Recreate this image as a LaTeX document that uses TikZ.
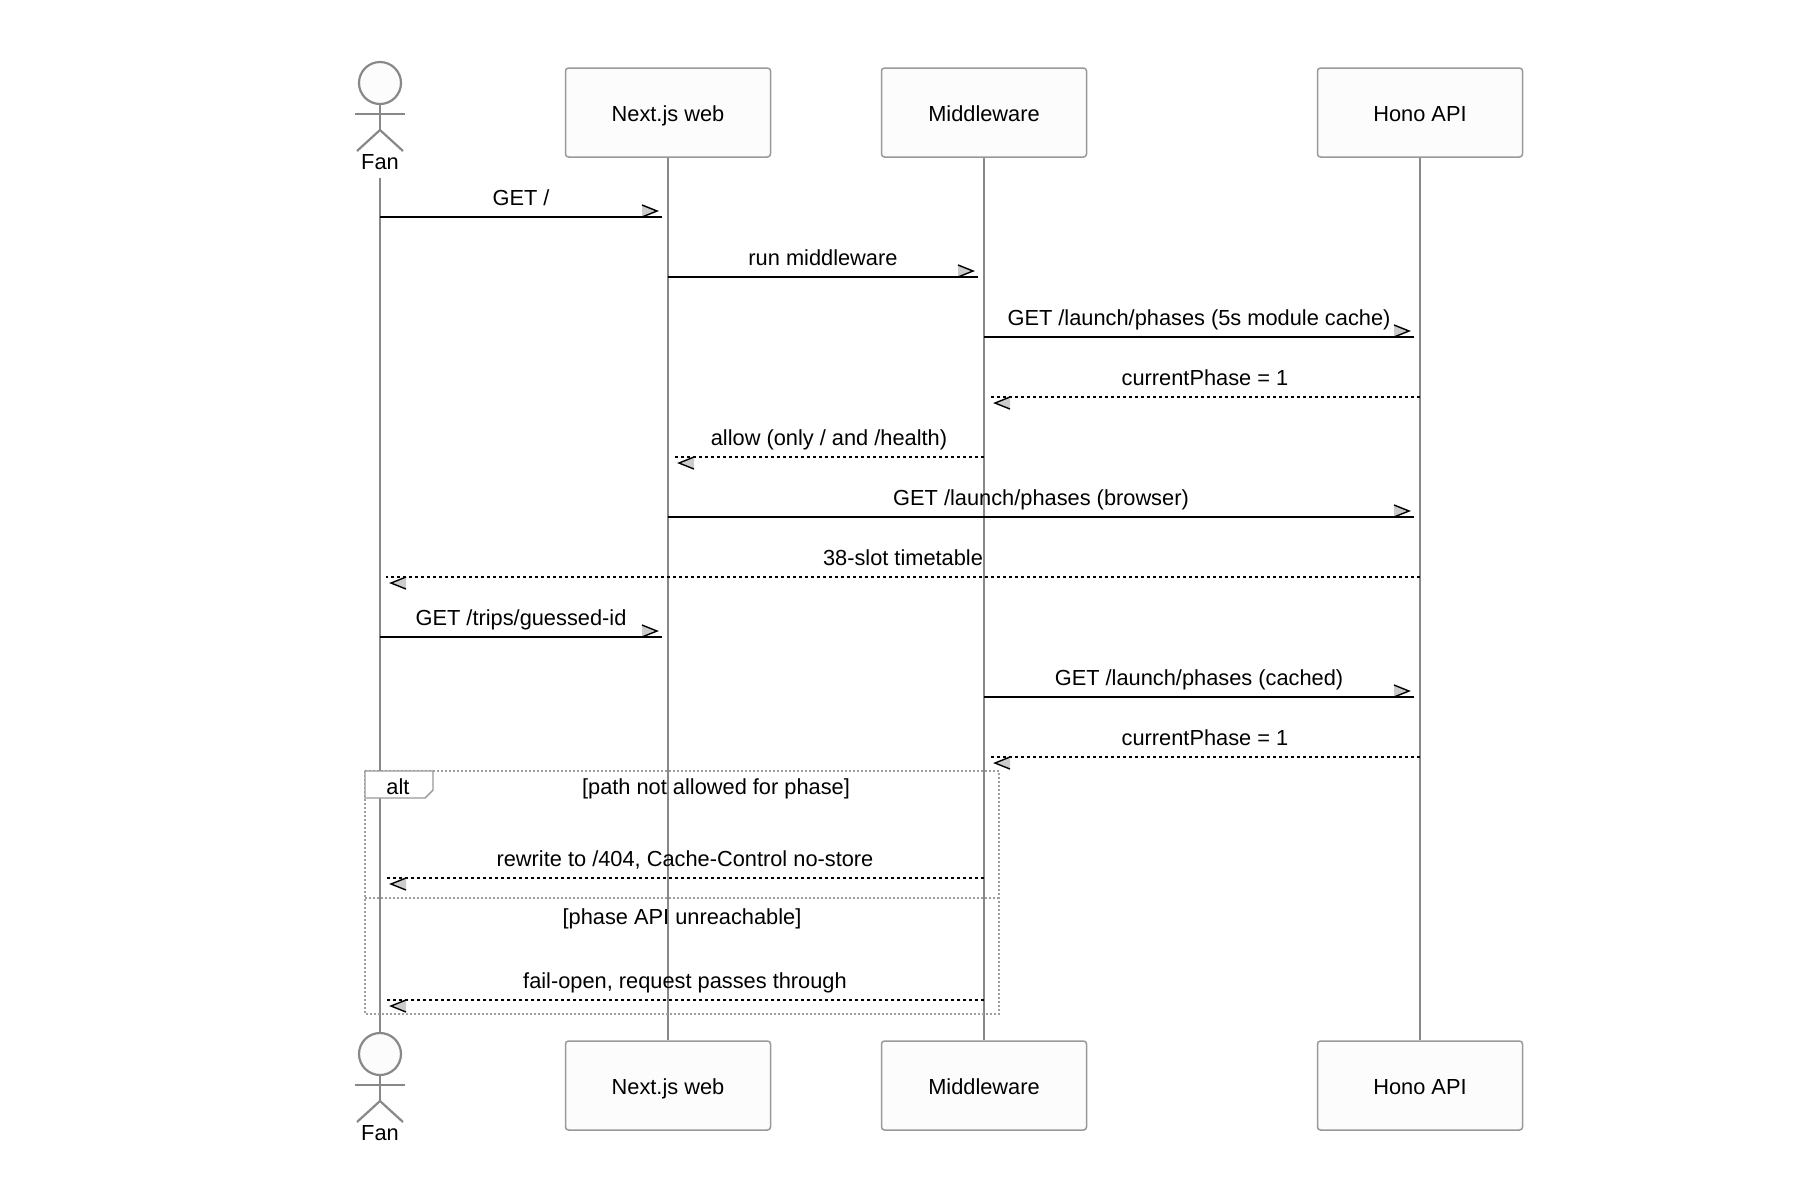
\documentclass[tikz,border=0pt]{standalone}
\usepackage{fontspec}
\setmainfont{Liberation Sans}
\usetikzlibrary{decorations.markings}
\definecolor{lifegray}{HTML}{888888}
\definecolor{boxgray}{HTML}{999999}
\definecolor{boxfill}{HTML}{FCFCFC}
\definecolor{framegray}{HTML}{9E9E9E}
\definecolor{tipfill}{HTML}{CCCCCC}
\tikzset{
  actorbox/.style={draw=boxgray, fill=boxfill, line width=0.75pt, rounded corners=1.5pt,
    minimum width=102.5pt, minimum height=44.5pt, inner sep=0pt, text height=8.5pt, text depth=0pt},
  lifeline/.style={draw=lifegray, line width=1.1pt},
  msgtip/.style={postaction={decorate}, decoration={markings, mark=at position 1 with {
      \fill[tipfill] (-20,-12) -- (-5,-6) -- (-20,0) -- cycle;
      \draw[solid, black, line width=0.7pt] (-20,-12) -- (-5,-6) -- (-20,0);}}},
  msg/.style={draw=black, line width=1pt, msgtip},
  reply/.style={msg, dash pattern=on 1.5pt off 1.5pt},
  lbl/.style={midway, anchor=base, yshift=6pt},
  frame/.style={draw=framegray, line width=1pt, dash pattern=on 1pt off 1pt},
  fanfig/.pic={
    \node[circle, draw=lifegray, fill=boxfill, line width=1.1pt, minimum size=21pt, inner sep=0pt] (-head) at (0,0) {};
    \draw[lifegray, line width=1.1pt] (-25,31) -- (25,31);
    \draw[lifegray, line width=1.1pt] (-head.south) -- (0,47);
    \draw[lifegray, line width=1.1pt] (-23,68) -- (0,47) -- (23,68);
    \node[anchor=base] (-name) at (0,86) {Fan};
  }
}
\begin{document}
\begin{tikzpicture}[x=0.5pt, y=-0.5pt, font=\fontsize{10.9}{13}\selectfont]
    \useasboundingbox (0,0) rectangle (1800,1200);
    % participants, top and bottom
    \pic (fanT) at (380,83) {fanfig};
    \pic (fanB) at (380,1054) {fanfig};
    \node[actorbox] (webT) at (668,112.5) {Next.js web};
    \node[actorbox] (mwT) at (984,112.5) {Middleware};
    \node[actorbox] (apiT) at (1420,112.5) {Hono API};
    \node[actorbox] (webB) at (668,1085.5) {Next.js web};
    \node[actorbox] (mwB) at (984,1085.5) {Middleware};
    \node[actorbox] (apiB) at (1420,1085.5) {Hono API};
    % lifelines
    \draw[lifeline] ([yshift=-1pt]fanT-name.south) -- (fanB-head.north);
    \draw[lifeline] (webT.south) -- (webB.north);
    \draw[lifeline] (mwT.south) -- (mwB.north);
    \draw[lifeline] (apiT.south) -- (apiB.north);
    % alt frame
    \draw[frame] (365,771) rectangle (999,1014);
    \draw[frame] (365,898) -- (999,898);
    \draw[draw=boxgray, fill=white, line width=0.7pt] (365,771) -- (433,771) -- (433,790) -- (425,798) -- (365,798) -- cycle;
    \node[anchor=base] (altlbl) at (398,794) {alt};
    \node[anchor=base] (cond1) at (716,794) {[path not allowed for phase]};
    \node[anchor=base] (cond2) at (682,924) {[phase API unreachable]};
    % message rows
    \coordinate (m1) at (0,217);   \coordinate (m2) at (0,277);
    \coordinate (m3) at (0,337);   \coordinate (m4) at (0,397);
    \coordinate (m5) at (0,457);   \coordinate (m6) at (0,517);
    \coordinate (m7) at (0,577);   \coordinate (m8) at (0,637);
    \coordinate (m9) at (0,697);   \coordinate (m10) at (0,757);
    \coordinate (m11) at (0,878);  \coordinate (m12) at (0,1000);
    \draw[msg] (fanT-name |- m1) -- ([xshift=-3pt]webT |- m1) node[lbl] {GET /};
    \draw[msg] (webT |- m2) -- ([xshift=-3pt]mwT |- m2) node[lbl] {run middleware};
    \draw[msg] (mwT |- m3) -- ([xshift=-3pt]apiT |- m3) node[lbl] {GET /launch/phases (5s module cache)};
    \draw[reply] (apiT |- m4) -- ([xshift=3pt]mwT |- m4) node[lbl] {currentPhase = 1};
    \draw[reply] (mwT |- m5) -- ([xshift=3pt]webT |- m5) node[lbl] {allow (only / and /health)};
    \draw[msg] (webT |- m6) -- ([xshift=-3pt]apiT |- m6) node[lbl] {GET /launch/phases (browser)};
    \draw[reply] (apiT |- m7) -- ([xshift=3pt]fanT-name |- m7) node[lbl] {38-slot timetable};
    \draw[msg] (fanT-name |- m8) -- ([xshift=-3pt]webT |- m8) node[lbl] {GET /trips/guessed-id};
    \draw[msg] (mwT |- m9) -- ([xshift=-3pt]apiT |- m9) node[lbl] {GET /launch/phases (cached)};
    \draw[reply] (apiT |- m10) -- ([xshift=3pt]mwT |- m10) node[lbl] {currentPhase = 1};
    \draw[reply] (mwT |- m11) -- ([xshift=3pt]fanT-name |- m11) node[lbl] {rewrite to /404, Cache-Control no-store};
    \draw[reply] (mwT |- m12) -- ([xshift=3pt]fanT-name |- m12) node[lbl] {fail-open, request passes through};
\end{tikzpicture}
\end{document}
